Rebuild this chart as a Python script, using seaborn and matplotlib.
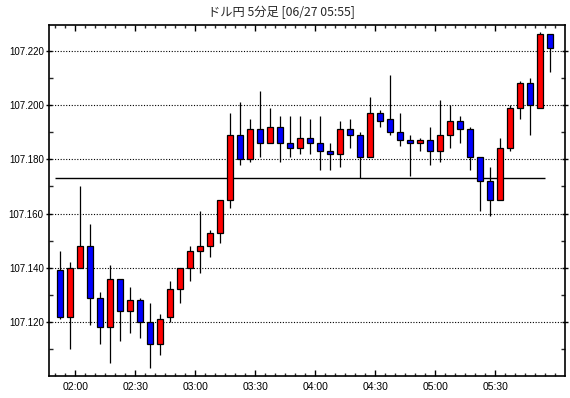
import numpy as np
import matplotlib
matplotlib.use('Agg')
import matplotlib.pyplot as plt
from matplotlib.ticker import FixedLocator, MultipleLocator, FormatStrFormatter
import seaborn as sns

# 5分足 01:50 - 05:55
opens = [107.139, 107.122, 107.140, 107.148, 107.129, 107.118, 107.136, 107.124, 107.128, 107.120,
         107.112, 107.122, 107.132, 107.140, 107.146, 107.148, 107.153, 107.165, 107.189, 107.180,
         107.191, 107.186, 107.192, 107.186, 107.184, 107.188, 107.186, 107.183, 107.182, 107.191,
         107.189, 107.181, 107.197, 107.195, 107.190, 107.187, 107.186, 107.187, 107.183, 107.189,
         107.194, 107.191, 107.181, 107.172, 107.165, 107.184, 107.199, 107.208, 107.199, 107.226]
highs = [107.146, 107.142, 107.170, 107.156, 107.131, 107.141, 107.136, 107.133, 107.129, 107.127,
         107.123, 107.135, 107.140, 107.148, 107.161, 107.154, 107.165, 107.197, 107.201, 107.195,
         107.205, 107.199, 107.196, 107.196, 107.196, 107.195, 107.196, 107.186, 107.194, 107.195,
         107.190, 107.203, 107.198, 107.211, 107.197, 107.189, 107.188, 107.192, 107.202, 107.200,
         107.196, 107.192, 107.181, 107.177, 107.188, 107.200, 107.209, 107.210, 107.227, 107.226]
lows = [107.121, 107.110, 107.140, 107.119, 107.112, 107.105, 107.113, 107.116, 107.114, 107.103,
        107.108, 107.120, 107.127, 107.135, 107.138, 107.144, 107.149, 107.162, 107.178, 107.179,
        107.181, 107.186, 107.179, 107.181, 107.182, 107.182, 107.176, 107.176, 107.177, 107.184,
        107.173, 107.181, 107.192, 107.189, 107.185, 107.174, 107.183, 107.178, 107.179, 107.184,
        107.186, 107.176, 107.161, 107.159, 107.165, 107.183, 107.195, 107.189, 107.199, 107.212]
closes = [107.122, 107.140, 107.148, 107.129, 107.118, 107.136, 107.124, 107.128, 107.120, 107.112,
          107.121, 107.132, 107.140, 107.146, 107.148, 107.153, 107.165, 107.189, 107.180, 107.191,
          107.186, 107.192, 107.186, 107.184, 107.188, 107.186, 107.183, 107.182, 107.191, 107.189,
          107.181, 107.197, 107.194, 107.190, 107.187, 107.186, 107.187, 107.183, 107.189, 107.194,
          107.191, 107.181, 107.172, 107.165, 107.184, 107.199, 107.208, 107.200, 107.226, 107.221]

time_labels = ['02:00', '02:30', '03:00', '03:30', '04:00', '04:30', '05:00', '05:30']
y_ticks = [107.120, 107.140, 107.160, 107.180, 107.200, 107.220]
ref_level = 107.173
title = 'ドル円 5分足 [06/27 05:55]'

sns.set_style('white')
plt.rcParams['font.family'] = ['Liberation Sans', 'DejaVu Sans']

W, H = 570, 398
fig = plt.figure(figsize=(W / 100, H / 100), dpi=100)
ax = fig.add_axes([49.3 / W, 22 / H, (564.7 - 49.3) / W, (376 - 25) / H])

x = np.arange(len(opens))
o = np.array(opens)
c = np.array(closes)
up = c >= o
colors = np.where(up, '#ff0000', '#0000ff')
bottoms = np.minimum(o, c)
heights = np.maximum(np.abs(c - o), 0.0004)

# ヒゲ
ax.vlines(x, lows, highs, color='black', linewidth=0.9, zorder=2)
# 実体
ax.bar(x, heights, bottom=bottoms, width=0.6, color=colors,
       edgecolor='black', linewidth=0.9, zorder=3)

ax.hlines(ref_level, -0.5, 48.5, color='black', linewidth=1.0, zorder=1)

ax.set_xlim(-1.1, 50.44)
ax.set_ylim(107.1001, 107.2295)

# x軸: 30分ごとに目盛り
major_x = [1.5 + 6 * i for i in range(len(time_labels))]
ax.xaxis.set_major_locator(FixedLocator(major_x))
ax.xaxis.set_minor_locator(FixedLocator(np.arange(-0.5, 50, 1)))
ax.set_xticklabels(time_labels)

ax.yaxis.set_major_locator(FixedLocator(y_ticks))
ax.yaxis.set_minor_locator(MultipleLocator(0.01))
ax.yaxis.set_major_formatter(FormatStrFormatter('%.3f'))

ax.tick_params(axis='x', which='major', direction='in', length=4, width=1,
               top=True, bottom=True, labelsize=7.5, pad=4, colors='black')
ax.tick_params(axis='x', which='minor', direction='in', length=2, width=1,
               top=True, bottom=True)
ax.tick_params(axis='y', which='major', direction='inout', length=5, width=1,
               left=True, right=True, labelsize=7, pad=1.5, colors='black')
ax.tick_params(axis='y', which='minor', direction='in', length=3, width=1,
               left=True, right=True)

ax.yaxis.grid(True, which='major', linestyle=(0, (1, 1.5)), color='black', linewidth=0.8)
ax.xaxis.grid(False)
ax.set_axisbelow(True)

for s in ax.spines.values():
    s.set_visible(True)
    s.set_color('black')
    s.set_linewidth(1.2)

fig.text(281 / W, 1 - 12 / H, title, ha='center', va='center', fontsize=8.8,
         family=['Noto Sans CJK JP', 'DejaVu Sans'])

fig.savefig('out.png', dpi=100)
